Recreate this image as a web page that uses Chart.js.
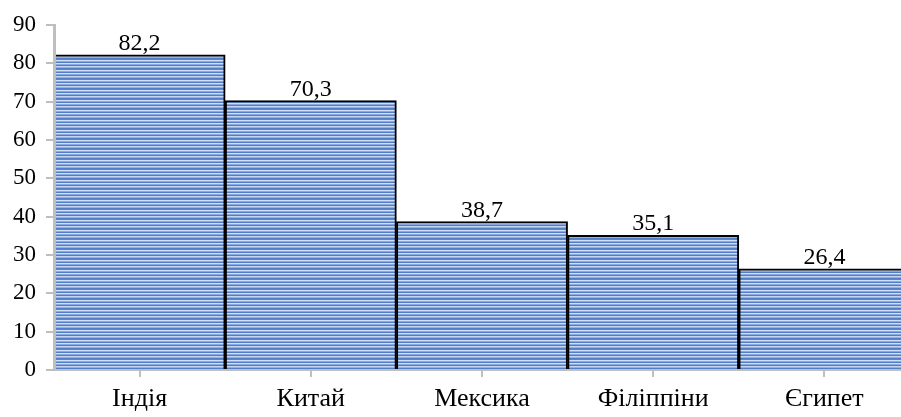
<!DOCTYPE html>
<html>
<head>
<meta charset="utf-8">
<script src="https://cdn.jsdelivr.net/npm/chart.js@4.4.1/dist/chart.umd.min.js"></script>
<style>
html,body{margin:0;padding:0;background:#fff;overflow:hidden;}
#wrap{position:absolute;left:0;top:0;width:910px;height:417px;}
</style>
</head>
<body>
<div id="wrap"><canvas id="c" width="910" height="417"></canvas></div>
<script>
const categories = ['Індія', 'Китай', 'Мексика', 'Філіппіни', 'Єгипет'];
const values = [82.2, 70.3, 38.7, 35.1, 26.4];
const yTicks = [0, 10, 20, 30, 40, 50, 60, 70, 80, 90];

function makePattern() {
  const t = document.createElement('canvas');
  t.width = 4; t.height = 10;
  const g = t.getContext('2d');
  const rows = ['#d2def3','#8aa9de','#527ec9','#d2def3','#8aa9de','#527ec9','#c6d5ef','#94b1e1','#527ec9','#5a84cd'];
  rows.forEach((c, i) => { g.fillStyle = c; g.fillRect(0, i, 4, 1); });
  return g.createPattern(t, 'repeat');
}

const valueLabels = {
  id: 'valueLabels',
  afterDatasetsDraw(chart) {
    const ctx = chart.ctx;
    const meta = chart.getDatasetMeta(0);
    ctx.save();
    ctx.font = '24px "Liberation Serif"';
    ctx.fillStyle = '#000';
    ctx.textAlign = 'center';
    ctx.textBaseline = 'alphabetic';
    meta.data.forEach((bar, i) => {
      ctx.fillText(values[i].toFixed(1).replace('.', ','), bar.x, bar.y - 5);
    });
    ctx.restore();
  }
};

const ctx = document.getElementById('c').getContext('2d');
new Chart(ctx, {
  type: 'bar',
  data: {
    labels: categories,
    datasets: [{
      data: values,
      backgroundColor: makePattern(),
      borderColor: '#000',
      borderWidth: {top: 2, left: 2, right: 2, bottom: 0},
      borderSkipped: 'bottom',
      categoryPercentage: 1,
      barPercentage: 1
    }]
  },
  options: {
    responsive: false,
    animation: false,
    events: [],
    layout: {padding: {top: 25, right: 0, left: 0, bottom: 0}},
    plugins: {legend: {display: false}, tooltip: {enabled: false}},
    scales: {
      x: {
        afterFit(scale) { scale.height = 47; },
        grid: {display: true, drawOnChartArea: false, offset: false, color: '#bfbfbf', lineWidth: 2, tickLength: 7},
        border: {display: true, color: '#bfbfbf', width: 2, z: 1},
        ticks: {color: '#000', font: {family: 'Liberation Serif', size: 26}, padding: 7, maxRotation: 0}
      },
      y: {
        min: 0, max: 90,
        afterBuildTicks(scale) { scale.ticks = yTicks.map(v => ({value: v})); },
        afterFit(scale) { scale.width = 54; },
        grid: {display: true, drawOnChartArea: false, color: '#bfbfbf', lineWidth: 2, tickLength: 8},
        border: {display: true, color: '#bfbfbf', width: 3, z: 1},
        ticks: {color: '#000', font: {family: 'Liberation Serif', size: 23}, padding: 10}
      }
    }
  },
  plugins: [valueLabels]
});
</script>
</body>
</html>
